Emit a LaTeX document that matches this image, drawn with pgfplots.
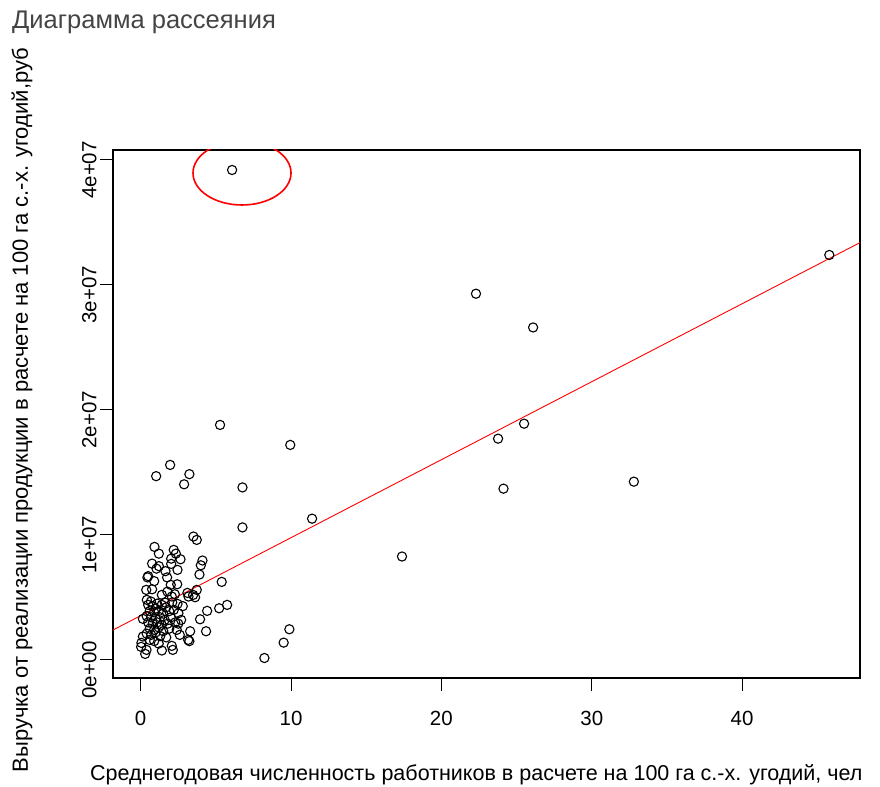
\documentclass[border=0pt]{standalone}
\usepackage{pgfplots}
\pgfplotsset{compat=1.18}
\usepackage{fontspec}
\setmainfont{Liberation Sans}
\definecolor{titlegray}{RGB}{68,68,68}
\begin{document}
\begin{tikzpicture}
\begin{axis}[
  scale only axis,
  width=747bp, height=528bp,
  xmin=-1.84, xmax=47.84,
  ymin=-1.45e6, ymax=4.08e7,
  axis line style={black, line width=1.1bp},
  tick pos=left,
  tick align=outside,
  major tick length=13bp,
  tick style={black, line width=1bp},
  xtick={0,10,20,30,40},
  ytick={0,1e7,2e7,3e7,4e7},
  yticklabels={0e+00,1e+07,2e+07,3e+07,4e+07},
  scaled y ticks=false,
  /pgf/number format/assume math mode=true,
  ticklabel style={font=\fontsize{20.5bp}{24bp}\selectfont},
  xticklabel style={yshift=-17bp},
  yticklabel style={rotate=90, anchor=south, xshift=-10bp},
  clip=true,
]
\addplot[only marks, mark=o, mark size=4.6bp, mark options={black, line width=1.1bp}] coordinates {
(6.08,39.2e6) (45.8,32.4e6) (22.3,29.3e6) (26.1,26.6e6) (23.77,17.7e6) (25.5,18.9e6)
(24.13,13.7e6) (32.8,14.26e6) (17.38,8.27e6) (11.4,11.3e6) (9.95,17.2e6) (5.28,18.8e6)
(6.77,13.8e6) (6.77,10.6e6) (1.96,15.6e6) (1.03,14.7e6) (3.24,14.86e6) (2.89,14.05e6)
(3.51,9.87e6) (3.73,9.6e6) (8.23,0.15e6) (9.51,1.38e6) (9.89,2.45e6) (5.39,6.24e6)
(5.75,4.4e6) (5.22,4.13e6) (4.42,3.92e6) (4.35,2.29e6) (3.95,3.25e6) (4.11,7.95e6)
(4.0,7.57e6) (3.91,6.83e6) (3.73,5.6e6) (3.62,5.01e6) (3.18,5.07e6) (3.11,5.36e6)
(3.29,2.29e6) (3.24,1.5e6) (3.49,5.2e6)
(0.92,9.04e6) (1.21,8.5e6) (2.2,8.8e6) (2.34,8.5e6) (2.03,8.1e6) (2.65,8.05e6)
(2.45,7.2e6) (0.76,7.7e6) (1.05,7.3e6) (1.21,7.5e6) (2.03,7.68e6) (1.65,7.1e6)
(0.45,6.6e6) (0.5,6.7e6) (1.76,6.6e6) (0.9,6.3e6) (2.0,6.0e6) (2.43,6.05e6)
(0.76,5.65e6) (1.78,5.46e6) (2.27,5.25e6) (0.37,5.6e6) (1.41,5.2e6) (2.07,5.07e6)
(0.41,4.8e6) (0.68,4.67e6) (2.45,4.48e6) (2.51,3.73e6) (2.69,3.2e6) (2.4,2.4e6)
(2.07,1.12e6) (2.14,0.8e6) (1.41,0.75e6) (0.03,1.04e6) (0.3,0.48e6) (0.15,1.87e6)
(0.15,3.28e6) (0.39,0.8e6) (0.05,1.36e6) (3.16,1.6e6)
(0.5,4.4e6) (0.8,4.3e6) (1.1,4.5e6) (1.4,4.4e6) (1.7,4.2e6) (0.6,3.9e6)
(0.9,3.8e6) (1.2,3.9e6) (1.5,3.7e6) (1.9,3.9e6) (2.2,4.0e6) (0.4,3.5e6)
(0.7,3.4e6) (1.0,3.3e6) (1.3,3.4e6) (1.6,3.2e6) (2.0,3.4e6) (0.5,3.0e6)
(0.8,2.9e6) (1.1,3.0e6) (1.4,2.8e6) (1.8,2.9e6) (2.3,3.0e6) (0.6,2.5e6)
(0.9,2.4e6) (1.2,2.6e6) (1.5,2.3e6) (1.9,2.5e6) (0.4,2.1e6) (0.7,2.0e6)
(1.0,2.2e6) (1.3,1.9e6) (1.7,1.8e6) (0.9,1.5e6) (2.6,2.0e6) (2.8,4.3e6)
(2.5,2.9e6) (1.2,1.3e6) (0.6,1.6e6) (1.6,4.6e6) (1.0,4.1e6) (2.1,4.6e6)
};
\addplot[red, line width=0.9bp] coordinates {(-1.84,2.39e6) (47.84,33.39e6)};
\draw[red, line width=1.6bp] (axis cs:6.74,3.896e7) ellipse [x radius=49bp, y radius=32bp];
\end{axis}
\path[use as bounding box] (-113bp,-109bp) rectangle (767bp,678bp);
\node[anchor=west, text=titlegray, font=\fontsize{25.5bp}{30bp}\selectfont, inner sep=0pt] at (-101bp,656bp) {Диаграмма рассеяния};
\node[rotate=90, font=\fontsize{22bp}{26bp}\selectfont, inner sep=0pt] at (-91bp,268bp) {Выручка от реализации продукции в расчете на 100 га с.-х. угодий,руб};
\node[anchor=west, font=\fontsize{21.5bp}{26bp}\selectfont, inner sep=0pt] at (-23bp,-97bp) {Среднегодовая численность работников в расчете на 100 га с.-х. угодий, чел};
\end{tikzpicture}
\end{document}
